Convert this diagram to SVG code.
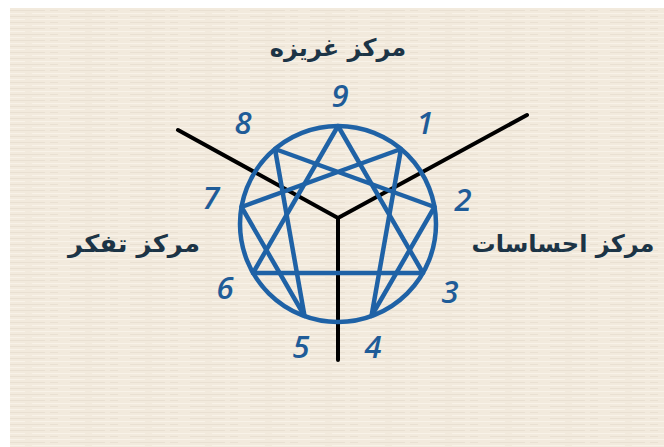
<svg xmlns="http://www.w3.org/2000/svg" width="664" height="447" viewBox="0 0 664 447">
<defs>
<pattern id="tex" x="0" y="0" width="60" height="6" patternUnits="userSpaceOnUse">
<rect width="60" height="6" fill="#f2eadd"/>
<path d="M0 1.5 H25 M32 1.5 H60" stroke="#f8f2e8" stroke-width="1.2"/>
<path d="M10 4.5 H45 M50 4.5 H58" stroke="#e9e0d2" stroke-width="1"/>
</pattern>
<style>
.num{font-family:"Open Sans","DejaVu Sans",sans-serif;font-style:italic;font-weight:600;font-size:31px;fill:#1f5c98;text-anchor:middle}
.ar{font-family:"DejaVu Sans",sans-serif;font-weight:bold;font-size:24px;fill:#1c3446;text-anchor:middle}
.blue{fill:none;stroke:#1f62a6;stroke-width:4.5;stroke-linejoin:round}
.axis{fill:none;stroke:#000;stroke-width:4;stroke-linecap:round;stroke-linejoin:round}
</style>
</defs>
<rect width="664" height="447" fill="#ffffff"/>
<rect x="10" y="8" width="654" height="439" fill="url(#tex)"/>
<g id="connectors">
<path class="axis" d="M178 130 L338 218 L527 115 M338 218 L338 360"/>
</g>
<g id="enneagram">
<circle class="blue" cx="338" cy="224" r="98"/>
<polygon class="blue" points="338,126 423,273 253,273"/>
<polygon class="blue" points="401,149 371.5,316 434.5,207 275,149 304.5,316 241.5,207"/>
</g>
<g id="labels">
<text class="num" x="340" y="107">9</text>
<text class="num" x="425" y="134">1</text>
<text class="num" x="463" y="211">2</text>
<text class="num" x="450" y="303">3</text>
<text class="num" x="373" y="358">4</text>
<text class="num" x="301" y="358">5</text>
<text class="num" x="225" y="299">6</text>
<text class="num" x="211" y="209">7</text>
<text class="num" x="243" y="134">8</text>
</g>
<g id="center-instinct"><text class="ar" x="338" y="56">مرکز غریزه</text></g>
<g id="center-thinking"><text class="ar" x="134" y="252" textLength="132" lengthAdjust="spacingAndGlyphs">مرکز تفکر</text></g>
<g id="center-feeling"><text class="ar" x="563" y="252" textLength="183" lengthAdjust="spacingAndGlyphs">مرکز احساسات</text></g>
</svg>
